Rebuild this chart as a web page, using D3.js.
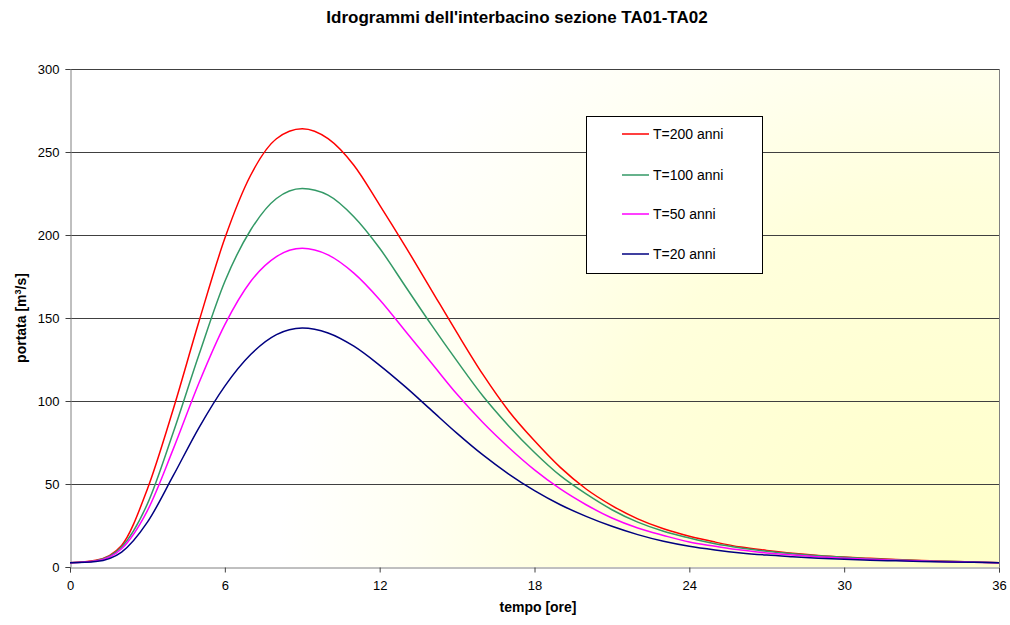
<!DOCTYPE html>
<html>
<head>
<meta charset="utf-8">
<script src="https://cdn.jsdelivr.net/npm/d3@7"></script>
<style>
  html, body { margin: 0; padding: 0; background: #fff; }
  svg { display: block; font-family: "Liberation Sans", Arial, sans-serif; }
</style>
</head>
<body>
<svg id="chart" width="1010" height="625"></svg>
<script>
// Hourly discharge values (m³/s) for each return period
const hours = d3.range(0, 37);
const q200 = [2.5, 4, 13, 47, 95, 148, 198, 236, 258, 264, 258, 242, 218, 193, 167, 141, 116, 94, 76, 60, 47, 37, 29, 23, 18.5, 15, 12, 10, 8.3, 7, 6, 5.2, 4.5, 3.9, 3.4, 3, 2.6];
const q100 = [2.5, 3.8, 12, 38, 81, 128, 172, 203, 222, 228, 224, 211, 192, 169, 146, 124, 103, 85, 69, 55, 44, 34.5, 27, 21.5, 17.5, 14, 11.5, 9.5, 8, 6.8, 5.8, 5, 4.4, 3.8, 3.4, 3, 2.6];
const q50  = [2.5, 3.6, 11, 34, 71, 111, 146, 172, 187, 192, 188, 177, 161, 142, 123, 104, 87, 72, 58.5, 47, 37.5, 29.5, 23.5, 19, 15, 12.5, 10.2, 8.5, 7.2, 6.2, 5.3, 4.6, 4.1, 3.6, 3.2, 2.9, 2.5];
const q20  = [2.5, 3.3, 9, 27, 55, 84, 109, 128, 140, 144, 141, 133, 121.5, 108.5, 94.5, 80.5, 67.5, 56, 46, 37.5, 30.5, 24.5, 19.5, 15.5, 12.5, 10.3, 8.5, 7.2, 6.2, 5.3, 4.6, 4.1, 3.7, 3.3, 3, 2.8, 2.5];

const seriesNames = ["T=200 anni", "T=100 anni", "T=50 anni", "T=20 anni"];
const seriesColors = ["#ff0000", "#339966", "#ff00ff", "#000080"];
const seriesValues = [q200, q100, q50, q20];

const xTicks = [0, 6, 12, 18, 24, 30, 36];
const yTicks = [0, 50, 100, 150, 200, 250, 300];

const svg = d3.select("#chart");
const plot = { left: 70, top: 69, right: 999, bottom: 567 };

const x = d3.scaleLinear().domain([0, 36]).range([plot.left, plot.right]);
const y = d3.scaleLinear().domain([0, 300]).range([plot.bottom, plot.top]);

// Plot-area fill: white fading to pale yellow towards the lower right
const defs = svg.append("defs");
const grad = defs.append("radialGradient")
  .attr("id", "bg")
  .attr("gradientUnits", "userSpaceOnUse")
  .attr("cx", plot.right - 40).attr("cy", plot.bottom)
  .attr("r", 680);
grad.append("stop").attr("offset", 0).attr("stop-color", "#ffffc8");
grad.append("stop").attr("offset", 0.55).attr("stop-color", "#ffffdc");
grad.append("stop").attr("offset", 0.8).attr("stop-color", "#fffff2");
grad.append("stop").attr("offset", 1).attr("stop-color", "#ffffff");

svg.append("rect")
  .attr("x", plot.left).attr("y", plot.top)
  .attr("width", plot.right - plot.left).attr("height", plot.bottom - plot.top)
  .attr("fill", "url(#bg)");

// Horizontal gridlines
svg.append("g")
  .selectAll("line")
  .data(yTicks.filter(d => d > 0))
  .join("line")
  .attr("x1", plot.left).attr("x2", plot.right)
  .attr("y1", d => Math.round(y(d)) + 0.5).attr("y2", d => Math.round(y(d)) + 0.5)
  .attr("stroke", "#404040").attr("stroke-width", 1);

// Right border of the plot area
svg.append("line")
  .attr("x1", plot.right + 0.5).attr("x2", plot.right + 0.5)
  .attr("y1", plot.top).attr("y2", plot.bottom)
  .attr("stroke", "#808080");

// Axes
const yAxis = svg.append("g")
  .attr("transform", `translate(${plot.left + 0.5},0)`)
  .call(d3.axisLeft(y).tickValues(yTicks).tickSize(5).tickPadding(6));
const xAxis = svg.append("g")
  .attr("transform", `translate(0,${plot.bottom + 0.5})`)
  .call(d3.axisBottom(x).tickValues(xTicks).tickSize(5).tickPadding(8));

[yAxis, xAxis].forEach(g => {
  g.select(".domain").attr("stroke", "#808080");
  g.selectAll(".tick line").attr("stroke", "#404040");
  g.selectAll(".tick text")
    .attr("fill", "#000")
    .style("font-size", "13px")
    .style("font-family", "'Liberation Sans', Arial, sans-serif");
});

// Hydrograph lines
const line = d3.line()
  .x((d, i) => x(hours[i]))
  .y(d => y(d))
  .curve(d3.curveMonotoneX);

svg.append("g")
  .selectAll("path")
  .data(seriesValues)
  .join("path")
  .attr("d", d => line(d))
  .attr("fill", "none")
  .attr("stroke", (d, i) => seriesColors[i])
  .attr("stroke-width", 1.5);

// Title
svg.append("text")
  .attr("x", 517).attr("y", 23)
  .attr("text-anchor", "middle")
  .style("font-size", "17px").style("font-weight", "bold")
  .text("Idrogrammi dell'interbacino sezione TA01-TA02");

// Axis titles
svg.append("text")
  .attr("x", 538).attr("y", 612)
  .attr("text-anchor", "middle")
  .style("font-size", "14px").style("font-weight", "bold")
  .text("tempo [ore]");

const yTitle = svg.append("text")
  .attr("transform", "translate(26,318) rotate(-90)")
  .attr("text-anchor", "middle")
  .style("font-size", "14px").style("font-weight", "bold");
yTitle.append("tspan").text("portata [m");
yTitle.append("tspan").attr("dy", -5).style("font-size", "9px").text("3");
yTitle.append("tspan").attr("dy", 5).text("/s]");

// Legend
const legend = svg.append("g");
legend.append("rect")
  .attr("x", 586.5).attr("y", 116.5)
  .attr("width", 176).attr("height", 157)
  .attr("fill", "#fff").attr("stroke", "#000");

const legendY = [134, 175, 214, 254];
const items = legend.selectAll("g.item")
  .data(seriesNames)
  .join("g")
  .attr("class", "item")
  .attr("transform", (d, i) => `translate(0,${legendY[i]})`);
items.append("line")
  .attr("x1", 622).attr("x2", 649)
  .attr("stroke", (d, i) => seriesColors[i])
  .attr("stroke-width", 1.5);
items.append("text")
  .attr("x", 653).attr("y", 5)
  .style("font-size", "14px")
  .text(d => d);
</script>
</body>
</html>
